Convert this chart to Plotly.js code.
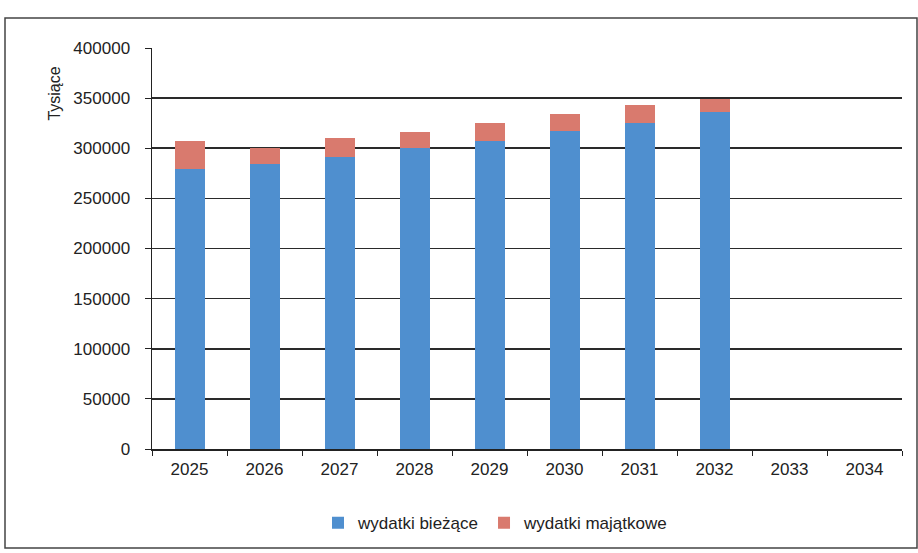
<!DOCTYPE html>
<html>
<head>
<meta charset="utf-8">
<script src="https://cdn.plot.ly/plotly-3.0.1.min.js"></script>
<style>
  html, body { margin: 0; padding: 0; background: #fff; }
  #chart { width: 918px; height: 553px; }
</style>
</head>
<body>
<div id="chart"></div>
<script>
// Expenditure by year (thousands)
const years = ['2025', '2026', '2027', '2028', '2029', '2030', '2031', '2032', '2033', '2034'];
const currentSpending = [279000, 284000, 291000, 300000, 307000, 317000, 325000, 336000, null, null];
const capitalSpending = [28000, 16000, 19000, 16000, 18000, 17000, 18000, 13000, null, null];
const yTicks = [0, 50000, 100000, 150000, 200000, 250000, 300000, 350000, 400000];

const fontFamily = '"Liberation Sans", Arial, sans-serif';

const traces = [
  {
    type: 'bar',
    name: 'wydatki bieżące',
    x: years,
    y: currentSpending,
    marker: { color: '#4f8fcf' },
    hoverinfo: 'x+y'
  },
  {
    type: 'bar',
    name: 'wydatki majątkowe',
    x: years,
    y: capitalSpending,
    marker: { color: '#d97a6e' },
    hoverinfo: 'x+y'
  }
];

const layout = {
  width: 918,
  height: 553,
  barmode: 'stack',
  bargap: 0.6,
  paper_bgcolor: '#ffffff',
  plot_bgcolor: '#ffffff',
  margin: { l: 152, r: 16, t: 48, b: 104, autoexpand: false },
  font: { family: fontFamily, color: '#222', size: 17 },
  showlegend: true,
  legend: {
    orientation: 'h',
    x: 0.458, xanchor: 'center',
    y: -0.14, yanchor: 'top',
    bgcolor: 'rgba(0,0,0,0)',
    font: { size: 17, color: '#222' },
    itemwidth: 30,
    traceorder: 'normal'
  },
  xaxis: {
    type: 'category',
    categoryorder: 'array',
    categoryarray: years,
    showgrid: false,
    showline: true,
    linecolor: '#222',
    linewidth: 1.5,
    ticks: 'outside',
    tickson: 'boundaries',
    ticklen: 5,
    tickcolor: '#222',
    ticklabelstandoff: 4,
    tickfont: { size: 17, color: '#222' },
    zeroline: false
  },
  yaxis: {
    range: [0, 400000],
    tickvals: yTicks,
    ticktext: yTicks.map(String),
    showgrid: true,
    gridcolor: '#2a2a2a',
    gridwidth: 1.6,
    showline: true,
    linecolor: '#222',
    linewidth: 1.5,
    ticks: 'outside',
    ticklen: 6,
    tickcolor: '#222',
    ticklabelstandoff: 11,
    tickfont: { size: 17, color: '#222' },
    zeroline: false
  },
  annotations: [
    {
      text: 'Tysiące',
      xref: 'paper', yref: 'paper',
      x: -0.13, y: 0.885,
      xanchor: 'center', yanchor: 'middle',
      textangle: -90,
      showarrow: false,
      font: { size: 16, color: '#222' }
    }
  ],
  shapes: [
    {
      type: 'rect',
      xref: 'paper', yref: 'paper',
      x0: -0.196, x1: 1.02,
      y0: -0.247, y1: 1.075,
      line: { color: '#444', width: 1.5 },
      fillcolor: 'rgba(0,0,0,0)',
      layer: 'below'
    }
  ]
};

Plotly.newPlot('chart', traces, layout, { displayModeBar: false, staticPlot: true });
</script>
</body>
</html>
